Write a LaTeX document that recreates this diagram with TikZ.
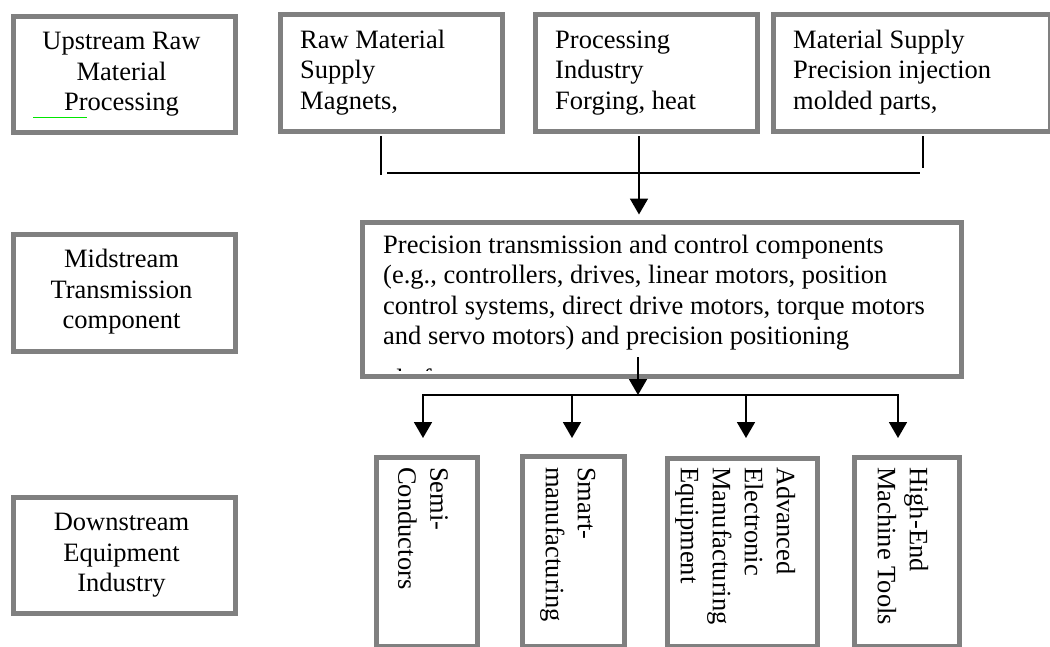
\documentclass[tikz,border=0pt]{standalone}
\usepackage{fontspec}
\setmainfont{Liberation Serif}
\usetikzlibrary{arrows.meta,calc}
\definecolor{boxgray}{RGB}{128,128,128}
\definecolor{marker}{RGB}{0,230,0}
\begin{document}
\begin{tikzpicture}[x=1pt,y=-1pt,
  box/.style={draw=boxgray, line width=5pt, fill=white, inner sep=0pt, rectangle, anchor=north west},
  txt/.style={inner sep=0pt, font=\fontsize{26.5}{30.5}\selectfont, align=left, anchor=north west},
  ctxt/.style={inner sep=0pt, font=\fontsize{26.5}{30.2}\selectfont, align=center, anchor=north},
  rtxt/.style={inner sep=0pt, font=\fontsize{26.5}{32}\selectfont, align=left, anchor=north west, rotate=-90},
  conn/.style={line width=1.8pt, black},
  arr/.style={conn, -{Triangle[width=18pt,length=16pt]}},
  darr/.style={conn, {Triangle[width=18pt,length=16pt]}-{Triangle[width=18pt,length=16pt]}}
]
\useasboundingbox (0,0) rectangle (1050,646);

% left column labels
\node[box, minimum width=222pt, minimum height=116pt] (up) at (10.5,13.5) {};
\node[box, minimum width=222pt, minimum height=117pt] (midl) at (10.5,231.5) {};
\node[box, minimum width=222pt, minimum height=116pt] (down) at (10.5,494.5) {};
\node[ctxt] (upt) at (121.5,28.65) {\strut Upstream Raw\\\strut Material\\\strut Processing};
\node[ctxt] (midlt) at (121.5,246.65) {\strut Midstream\\\strut Transmission\\\strut component};
\node[ctxt] (downt) at (121.5,509.65) {\strut Downstream\\\strut Equipment\\\strut Industry};
\coordinate (g1) at (33,117);
\coordinate (g2) at (87,117);
\draw[marker, line width=0.8pt] (g1) -- (g2);

% upstream boxes
\node[box, minimum width=222pt, minimum height=117pt] (raw) at (277.5,11.5) {};
\node[box, minimum width=222pt, minimum height=117pt] (proc) at (532.5,11.5) {};
\node[box, minimum width=277pt, minimum height=117pt] (mat) at (770.5,11.5) {};
\node[txt] (rawt) at (300,26.65) {\strut Raw Material\\\strut Supply\\\strut Magnets,};
\node[txt] (proct) at (555,26.65) {\strut Processing\\\strut Industry\\\strut Forging, heat};
\node[txt] (matt) at (793,26.65) {\strut Material Supply\\\strut Precision injection\\\strut molded parts,};

% midstream box
\node[box, minimum width=599pt, minimum height=154pt] (mid) at (359.5,219.5) {};
\node[txt] (midt) at (383,231.65) {\strut Precision transmission and control components\\\strut (e.g., controllers, drives, linear motors, position\\\strut control systems, direct drive motors, torque motors\\\strut and servo motors) and precision positioning};
\begin{scope}
  \clip (362,222) rectangle (956,370.5);
  \node[txt] (midt5) at (383,366.15) {\strut platforms};
\end{scope}

% downstream boxes
\node[box, minimum width=101pt, minimum height=189pt] (semi) at (373.5,454.5) {};
\node[box, minimum width=102pt, minimum height=190pt] (smart) at (519.5,453.5) {};
\node[box, minimum width=150pt, minimum height=188pt] (adv) at (664.5,455.5) {};
\node[box, minimum width=105pt, minimum height=189pt] (high) at (851.5,454.5) {};
\node[rtxt] (semit) at (453,467) {\strut Semi-\\\strut Conductors};
\node[rtxt] (smartt) at (600.4,467) {\strut Smart-\\\strut manufacturing};
\node[rtxt] (advt) at (799.4,467) {\strut Advanced\\\strut Electronic\\\strut Manufacturing\\\strut Equipment};
\node[rtxt] (hight) at (932.4,467) {\strut High-End\\\strut Machine Tools};

% top connectors
\coordinate (jL) at (381,175);
\coordinate (jR) at (923,168);
\coordinate (hL) at (387,173);
\coordinate (hR) at (920,173);
\coordinate (pX) at (639,0);
\draw[conn, shorten <=2.5pt] (raw.south -| jL) -- (jL);
\draw[conn, shorten <=2.5pt] (mat.south -| jR) -- (jR);
\draw[conn] (hL) -- (hR);
\draw[arr, shorten <=2.5pt, shorten >=5pt] (proc.south -| pX) -- (mid.north -| pX);

% bottom connectors
\coordinate (mS) at (638,357);
\coordinate (hB) at (638,395);
\coordinate (b1) at (423,395);
\coordinate (b2) at (572,395);
\coordinate (b3) at (746,395);
\coordinate (b4) at (898,395);
\draw[arr] (mS) -- (hB);
\draw[darr, shorten <=16.5pt, shorten >=16.5pt] (semi.north -| b1) -- (b1) -- (b4) -- (high.north -| b4);
\draw[arr, shorten >=15.5pt] (b2) -- (smart.north -| b2);
\draw[arr, shorten >=17.5pt] (b3) -- (adv.north -| b3);
\end{tikzpicture}
\end{document}
